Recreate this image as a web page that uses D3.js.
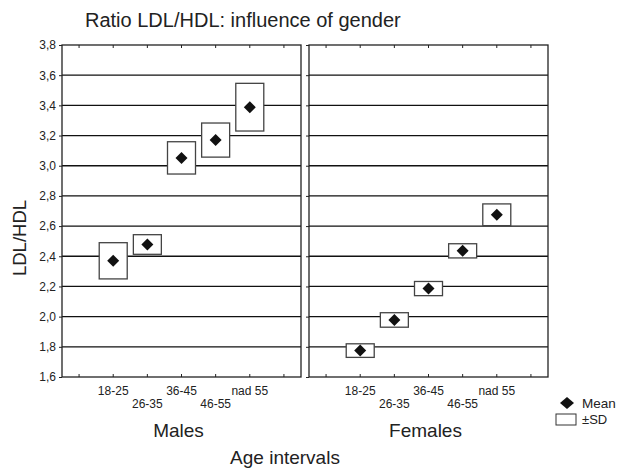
<!DOCTYPE html>
<html><head><meta charset="utf-8">
<script src="https://cdn.jsdelivr.net/npm/d3@7"></script>
<style>body{margin:0;background:#fff}svg{display:block;font-family:"Liberation Sans",Arial,sans-serif}</style>
</head><body>
<svg id="c" width="625" height="471"></svg>
<script>
const categories = ["18-25","26-35","36-45","46-55","nad 55"];
const groups = ["Males","Females"];
const malesMean = [2.37, 2.478, 3.052, 3.17, 3.388];
const malesSD   = [0.12, 0.065, 0.107, 0.113, 0.158];
const femalesMean = [1.775, 1.978, 2.186, 2.436, 2.675];
const femalesSD   = [0.045, 0.048, 0.047, 0.047, 0.072];
const yTicks = [1.6,1.8,2.0,2.2,2.4,2.6,2.8,3.0,3.2,3.4,3.6,3.8];

const svg = d3.select("#c");
const plotTop = 45, plotBottom = 377;
const panels = [
  {name: groups[0], x0: 62, x1: 301, mean: malesMean, sd: malesSD},
  {name: groups[1], x0: 309, x1: 548, mean: femalesMean, sd: femalesSD}
];
const y = d3.scaleLinear().domain([1.6, 3.8]).range([plotBottom, plotTop]);
const fmt = d => d3.format(".1f")(d).replace(".", ",");
const boxHalf = 14, dia = 6;

panels.forEach(p => {
  const x = d3.scaleLinear().domain([-1.5, 5.5]).range([p.x0, p.x1]);
  const g = svg.append("g");
  g.selectAll("line.grid").data(yTicks.slice(1, -1)).join("line")
    .attr("x1", p.x0).attr("x2", p.x1)
    .attr("y1", d => y(d)).attr("y2", d => y(d))
    .attr("stroke", "#111").attr("stroke-width", 1.3);
  const ya = g.append("g").attr("transform", `translate(${p.x0},0)`)
    .call(d3.axisLeft(y).tickValues(yTicks).tickSize(3).tickFormat(fmt));
  ya.select(".domain").remove();
  ya.selectAll("line").attr("stroke", "#222");
  if (p.x0 < 100) {
    ya.selectAll("text").attr("font-size", 12).attr("fill", "#222").attr("x", -6)
      .attr("font-family", "Liberation Sans, Arial, sans-serif");
  } else {
    ya.selectAll("text").remove();
  }
  const xt = d3.range(-1, 6);
  g.selectAll("line.tb").data(xt).join("line")
    .attr("x1", d => x(d)).attr("x2", d => x(d)).attr("y1", plotBottom).attr("y2", plotBottom - 3)
    .attr("stroke", "#222");
  g.selectAll("line.tt").data(xt).join("line")
    .attr("x1", d => x(d)).attr("x2", d => x(d)).attr("y1", plotTop).attr("y2", plotTop + 3)
    .attr("stroke", "#222");
  g.append("rect").attr("x", p.x0).attr("y", plotTop).attr("width", p.x1 - p.x0).attr("height", plotBottom - plotTop)
    .attr("fill", "none").attr("stroke", "#222").attr("stroke-width", 1.3);
  g.selectAll("text.cat").data(categories).join("text")
    .attr("x", (d, i) => x(i)).attr("y", (d, i) => i % 2 === 0 ? 395 : 408)
    .attr("text-anchor", "middle").attr("font-size", 12).attr("fill", "#222").text(d => d);
  g.selectAll("rect.sd").data(p.mean).join("rect")
    .attr("x", (d, i) => x(i) - boxHalf).attr("width", boxHalf * 2)
    .attr("y", (d, i) => y(d + p.sd[i])).attr("height", (d, i) => y(d - p.sd[i]) - y(d + p.sd[i]))
    .attr("fill", "#fff").attr("stroke", "#444").attr("stroke-width", 1.3);
  g.selectAll("path.m").data(p.mean).join("path")
    .attr("d", (d, i) => `M${x(i)},${y(d) - dia}L${x(i) + dia},${y(d)}L${x(i)},${y(d) + dia}L${x(i) - dia},${y(d)}Z`)
    .attr("fill", "#111");
  svg.append("text").attr("x", (p.x0 + p.x1) / 2 - 3).attr("y", 437)
    .attr("text-anchor", "middle").attr("font-size", 19).attr("fill", "#222").text(p.name);
});

svg.append("text").attr("x", 85).attr("y", 27).attr("font-size", 20).attr("fill", "#222")
  .text("Ratio LDL/HDL: influence of gender");
svg.append("text").attr("x", 285).attr("y", 464).attr("text-anchor", "middle")
  .attr("font-size", 19).attr("fill", "#222").text("Age intervals");
svg.append("text").attr("transform", "translate(26,238) rotate(-90)").attr("text-anchor", "middle")
  .attr("font-size", 18.5).attr("fill", "#222").text("LDL/HDL");

const lg = svg.append("g");
lg.append("path").attr("d", `M567,${403 - 6}L574,403L567,${403 + 6}L560,403Z`).attr("fill", "#111");
lg.append("text").attr("x", 582).attr("y", 408).attr("font-size", 13.5).attr("fill", "#222").text("Mean");
lg.append("rect").attr("x", 556).attr("y", 414).attr("width", 20).attr("height", 11)
  .attr("fill", "#fff").attr("stroke", "#333");
lg.append("text").attr("x", 582).attr("y", 424).attr("font-size", 13).attr("fill", "#222").text("±SD");
</script>
</body></html>
